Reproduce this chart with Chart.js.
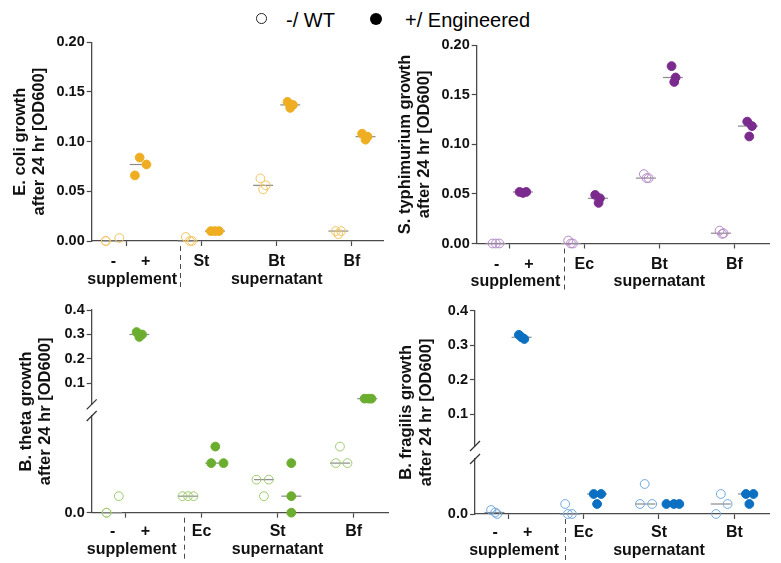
<!DOCTYPE html>
<html><head><meta charset="utf-8">
<script src="https://cdn.jsdelivr.net/npm/chart.js@4"></script>
<style>
html,body{margin:0;padding:0;background:#fff;}
body{width:781px;height:563px;position:relative;overflow:hidden;font-family:Arial,"Liberation Sans",Helvetica,sans-serif;}
canvas{position:absolute;}
.dot{position:absolute;border-radius:50%;box-sizing:border-box;}
.txt{position:absolute;top:10px;font-size:20px;line-height:20px;color:#000;white-space:nowrap;}
</style></head><body>
<span class="dot" style="left:256px;top:13.4px;width:10.8px;height:10.8px;border:1.3px solid #222;"></span>
<span class="txt" style="left:286px">-/ WT</span>
<span class="dot" style="left:370px;top:12.6px;width:12.4px;height:12.4px;background:#000;"></span>
<span class="txt" style="left:405px">+/ Engineered</span>
<canvas id="c1"></canvas><canvas id="c2"></canvas><canvas id="c3"></canvas><canvas id="c4"></canvas>
<script>
// ---------------- data ----------------
const supplementTicks = ['-', '+'];
const groupTitles = ['supplement', 'supernatant'];
const yTitleEcoli = ['E. coli growth', 'after 24 hr [OD600]'];
const yTitleSty = ['S. typhimurium growth', 'after 24 hr [OD600]'];
const yTitleBtheta = ['B. theta growth', 'after 24 hr [OD600]'];
const yTitleBfrag = ['B. fragilis growth', 'after 24 hr [OD600]'];

// E. coli panel (groups: supplement, St, Bt, Bf)
const ecoliGroups = ['St', 'Bt', 'Bf'];
const ecoliWT  = [[0.000, 0.003, 0.000], [0.004, 0.000, 0.000], [0.063, 0.052, 0.056], [0.010, 0.010, 0.007]];
const ecoliEng = [[0.084, 0.066, 0.077], [0.010, 0.010, 0.010], [0.140, 0.134, 0.137], [0.108, 0.102, 0.105]];
const ecoliWTJit  = [[-1, 1, -1], [-0.3, 0.3, 0.6], [-0.4, 0, 0.4], [-0.4, 0.4, 0]];
const ecoliEngJit = [[0, -0.7, 1], [-0.6, 0, 0.6], [-0.4, 0, 0.4], [-0.5, 0, 0.3]];
const ecoliYTicks = [0, 0.05, 0.10, 0.15, 0.20];

// S. typhimurium panel
const styGroups = ['Ec', 'Bt', 'Bf'];
const styWT  = [[0, 0, 0], [0.003, 0, 0], [0.070, 0.066, 0.066], [0.013, 0.0104, 0.0097]];
const styEng = [[0.052, 0.051, 0.052], [0.049, 0.0456, 0.041], [0.179, 0.1675, 0.163], [0.123, 0.1185, 0.108]];
const styWTJit  = [[-0.5, 0, 0.5], [-0.4, 0, 0.3], [-0.3, 0.1, 0.4], [-0.2, 0.4, 0.2]];
const styEngJit = [[-0.5, 0, 0.5], [-0.4, 0.3, 0.1], [-0.2, 0.4, 0.2], [-0.1, 0.6, 0.2]];
const styYTicks = [0, 0.05, 0.10, 0.15, 0.20];

// B. theta panel (broken axis)
const bthetaGroups = ['Ec', 'St', 'Bf'];
const bthetaWT  = [[0, 0.002, 0], [0.002, 0.002, 0.002], [0.004, 0.004, 0.002], [0.008, 0.006, 0.006]];
const bthetaEng = [[0.31, 0.30, 0.29], [0.008, 0.006, 0.006], [0.006, 0.002, 0], [0.038, 0.038, 0.038]];
const bthetaWTJit  = [[-0.8, 1, -0.8], [-0.8, 0, 0.8], [-1.1, 0.7, 0], [0, -0.6, 1.1]];
const bthetaEngJit = [[-0.4, 0.4, 0], [0, -0.6, 1.2], [0, 0, 0], [-0.4, 0.2, 0.6]];
const bthetaUpTicks = [0.1, 0.2, 0.3, 0.4];
const bthetaLowTicks = [0];

// B. fragilis panel (broken axis)
const bfragGroups = ['Ec', 'St', 'Bt'];
const bfragWT  = [[0.0008, 0.0003, 0], [0.002, 0, 0], [0.006, 0.002, 0.002], [0.004, 0, 0.002]];
const bfragEng = [[0.330, 0.323, 0.318], [0.004, 0.004, 0.002], [0.002, 0.002, 0.002], [0.004, 0.004, 0.002]];
const bfragWTJit  = [[-0.5, 0.1, 0.4], [-0.7, -0.3, 0.3], [-0.1, -0.8, 1], [0, -0.7, 1]];
const bfragEngJit = [[-0.4, 0, 0.4], [-0.5, 0.6, 0], [-0.9, 0.2, 1], [-0.3, 0.8, 0.2]];
const bfragUpTicks = [0.1, 0.2, 0.3, 0.4];
const bfragLowTicks = [0];

// ---------------- style ----------------
const FONT = 'Arial, "Liberation Sans", Helvetica, sans-serif';
const AXIS = '#4a4a4a';
const TXT = '#111';
const SIDE = 0.18, JIT = 0.09;

function median(a) { const s = [...a].sort((p, q) => p - q); return s[Math.floor(s.length / 2)]; }

const decor = {
  id: 'decor',
  afterDraw(chart, args, o) {
    const ctx = chart.ctx, xs = chart.scales.x;
    const sx = Math.round(xs.getPixelForValue(o.sep)) + 0.5;
    ctx.save();
    ctx.strokeStyle = AXIS; ctx.lineWidth = 1; ctx.setLineDash([5, 4]);
    ctx.beginPath(); ctx.moveTo(sx, xs.top + 5); ctx.lineTo(sx, xs.top + 48); ctx.stroke();
    ctx.setLineDash([]);
    if (o.broken) {
      const up = chart.scales.yUp, lo = chart.scales.yLow, ax = up.right;
      ctx.lineWidth = 1.2; ctx.strokeStyle = '#333';
      [up.bottom, lo.top].forEach(y => { ctx.beginPath(); ctx.moveTo(ax - 5, y + 5); ctx.lineTo(ax + 5, y - 5); ctx.stroke(); });
    }
    ctx.restore();
  }
};

function buildPanel(p) {
  const cv = document.getElementById(p.id);
  cv.width = p.box.w; cv.height = p.box.h;
  cv.style.left = p.box.x + 'px'; cv.style.top = p.box.y + 'px';
  const broken = !!p.broken;
  const axisOf = v => !broken ? 'y' : (v > p.broken.lowMax ? 'yUp' : 'yLow');
  const axes = broken ? ['yUp', 'yLow'] : ['y'];
  const sides = [
    { vals: p.wt, jit: p.wtJit, off: -SIDE, open: true },
    { vals: p.eng, jit: p.engJit, off: SIDE, open: false }
  ];
  const datasets = [];
  sides.forEach(sd => axes.forEach(ax => {
    const pts = [];
    sd.vals.forEach((grp, gi) => grp.forEach((v, k) => {
      if (axisOf(v) === ax) pts.push({ x: gi + 1 + sd.off + sd.jit[gi][k] * JIT, y: v });
    }));
    const fill = sd.open ? 'rgba(255,255,255,0)' : p.color;
    const line = sd.open ? p.light : p.color;
    datasets.push({ data: pts, yAxisID: ax, order: 1, clip: false, showLine: false,
      backgroundColor: fill, borderColor: line, pointBackgroundColor: fill, pointBorderColor: line,
      pointRadius: 4.4, pointHoverRadius: 4.4, pointBorderWidth: 1 });
    const meds = [];
    sd.vals.forEach((grp, gi) => { const m = median(grp); if (axisOf(m) === ax) meds.push({ x: gi + 1 + sd.off, y: m }); });
    datasets.push({ data: meds, yAxisID: ax, order: 2, clip: false, showLine: false, pointStyle: 'line',
      borderColor: '#8a8a8a', pointBorderColor: '#8a8a8a', pointRadius: 10, pointHoverRadius: 10, pointBorderWidth: 1.2 });
  }));

  const xt = [
    { v: 1 - 0.17, l: supplementTicks[0], m: false },
    { v: 1, l: '', m: true },
    { v: 1.08, l: ['', groupTitles[0]], m: false },
    { v: 1.26, l: supplementTicks[1], m: false },
    { v: 2, l: p.groups[0], m: true },
    { v: 3, l: [p.groups[1], groupTitles[1]], m: true },
    { v: 4, l: p.groups[2], m: true }
  ];
  const A = p.area, B = p.box;
  const xH = B.y + B.h - A.bottom;
  const leftW = A.left - B.x;
  const tickFont = { family: FONT, size: 14.5, weight: 'bold' };
  const titleFont = { family: FONT, size: 16.5, weight: 'bold', lineHeight: 1.2 };
  const yGrid = { display: true, drawOnChartArea: false, drawTicks: true, tickLength: 5, tickWidth: 1.2, tickColor: AXIS };
  const yBorder = { display: true, color: AXIS, width: 1.3 };
  const yTickOpts = (dec) => ({ autoSkip: false, padding: 2, color: TXT, font: tickFont, callback: v => Number(v).toFixed(dec) });

  const scales = {
    x: {
      type: 'linear', position: 'bottom', min: p.xMin, max: p.xMax,
      afterFit: s => { s.height = xH; },
      afterBuildTicks: s => { s.ticks = xt.map(t => ({ value: t.v })); },
      grid: { display: true, drawOnChartArea: false, drawTicks: true, tickLength: 5, tickWidth: 1.2,
        tickColor: c => (xt[c.index] && xt[c.index].m) ? AXIS : 'rgba(0,0,0,0)' },
      border: { display: true, color: AXIS, width: 1.3 },
      ticks: { autoSkip: false, maxRotation: 0, minRotation: 0, padding: p.xPad, color: TXT,
        font: { family: FONT, size: 16, weight: 'bold', lineHeight: 1.12 },
        callback: (v, i) => xt[i] ? xt[i].l : '' }
    }
  };
  const titleCfg = { display: true, text: p.title, color: TXT, font: titleFont, padding: { top: p.titlePad, bottom: 0 } };
  if (!broken) {
    scales.y = {
      type: 'linear', position: 'left', min: 0, max: 0.2,
      afterFit: s => { s.width = leftW; },
      afterBuildTicks: s => { s.ticks = p.yTicks.map(v => ({ value: v })); },
      grid: yGrid, border: yBorder,
      ticks: yTickOpts(2),
      title: titleCfg
    };
  } else {
    const br = p.broken;
    const stackW = leftW - br.titleW;
    scales.yTitle = {
      type: 'linear', position: 'left', weight: 10,
      afterFit: s => { s.width = br.titleW; },
      grid: { display: false }, border: { display: false }, ticks: { display: false },
      title: titleCfg
    };
    scales.yUp = {
      type: 'linear', position: 'left', stack: 'y', stackWeight: br.upH, weight: 3,
      min: br.upMin, max: 0.4,
      afterFit: s => { s.width = stackW; },
      afterBuildTicks: s => { s.ticks = br.upTicks.map(v => ({ value: v })); },
      grid: yGrid, border: yBorder,
      ticks: yTickOpts(1)
    };
    scales.yGap = {
      type: 'linear', position: 'left', stack: 'y', stackWeight: br.gapH, weight: 2,
      afterFit: s => { s.width = stackW; },
      grid: { display: false }, border: { display: false }, ticks: { display: false }
    };
    scales.yLow = {
      type: 'linear', position: 'left', stack: 'y', stackWeight: br.lowH, weight: 1,
      min: 0, max: br.lowMax,
      afterFit: s => { s.width = stackW; },
      afterBuildTicks: s => { s.ticks = br.lowTicks.map(v => ({ value: v })); },
      grid: yGrid, border: yBorder,
      ticks: yTickOpts(1)
    };
  }

  new Chart(cv, {
    type: 'scatter',
    data: { datasets },
    options: {
      responsive: false, animation: false, events: [],
      layout: { padding: { left: 0, top: A.top - B.y, right: B.x + B.w - A.right, bottom: 0 } },
      plugins: { legend: { display: false }, tooltip: { enabled: false },
        decor: { sep: p.sep, broken: broken } },
      scales
    },
    plugins: [decor]
  });
}

buildPanel({
  id: 'c1', box: { x: 0, y: 30, w: 395, h: 270 }, area: { left: 91.7, right: 391.7, top: 42.3, bottom: 241 },
  color: '#EFAE22', light: '#F2C25A', groups: ecoliGroups, wt: ecoliWT, eng: ecoliEng,
  wtJit: ecoliWTJit, engJit: ecoliEngJit, yTicks: ecoliYTicks, title: yTitleEcoli, titlePad: 10.1,
  xMin: 0.543, xMax: 4.423, xPad: 6.7, sep: 1.72
});
buildPanel({
  id: 'c2', box: { x: 390, y: 30, w: 391, h: 270 }, area: { left: 476.7, right: 775, top: 45.3, bottom: 243.5 },
  color: '#7B2B8D', light: '#B487C6', groups: styGroups, wt: styWT, eng: styEng,
  wtJit: styWTJit, engJit: styEngJit, yTicks: styYTicks, title: yTitleSty, titlePad: 5.1,
  xMin: 0.564, xMax: 4.472, xPad: 6.7, sep: 1.73
});
buildPanel({
  id: 'c3', box: { x: 0, y: 295, w: 400, h: 268 }, area: { left: 91.7, right: 398, top: 310, bottom: 512.7 },
  color: '#6BAE2F', light: '#9CCB6C', groups: bthetaGroups, wt: bthetaWT, eng: bthetaEng,
  wtJit: bthetaWTJit, engJit: bthetaEngJit, title: yTitleBtheta, titlePad: 16.1,
  xMin: 0.553, xMax: 4.463, xPad: 5.1, sep: 1.77,
  broken: { titleW: 55, upH: 94.3, gapH: 11.7, lowH: 96.7, upMin: 0.015, lowMax: 0.0117,
    upTicks: bthetaUpTicks, lowTicks: bthetaLowTicks }
});
buildPanel({
  id: 'c4', box: { x: 390, y: 295, w: 391, h: 268 }, area: { left: 475, right: 781, top: 310.7, bottom: 514 },
  color: '#0B6FC2', light: '#6FA8DD', groups: bfragGroups, wt: bfragWT, eng: bfragEng,
  wtJit: bfragWTJit, engJit: bfragEngJit, title: yTitleBfrag, titlePad: 6.8,
  xMin: 0.562, xMax: 4.469, xPad: 5.1, sep: 1.75,
  broken: { titleW: 50, upH: 135.3, gapH: 13, lowH: 55, upMin: 0.008, lowMax: 0.011,
    upTicks: bfragUpTicks, lowTicks: bfragLowTicks }
});
</script>
</body></html>
